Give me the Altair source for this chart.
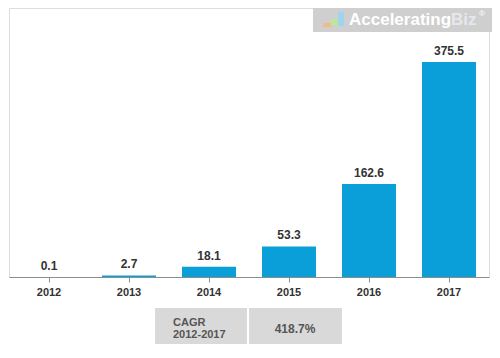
import altair as alt
import pandas as pd

years = ["2012", "2013", "2014", "2015", "2016", "2017"]
values = [0.1, 2.7, 18.1, 53.3, 162.6, 375.5]
cagr_label = "CAGR\n2012-2017"
cagr_value = "418.7%"
logo_main = "Accelerating"
logo_tail = "Biz"
logo_mark = "®"

df = pd.DataFrame({"year": years, "value": values})

FONT = "Liberation Sans"
BLUE = "#0a9fd8"

x_enc = alt.X("year:N", sort=years,
              scale=alt.Scale(paddingInner=0.325, paddingOuter=0.1625),
              axis=alt.Axis(title=None, labelAngle=0, labelFont=FONT, labelFontSize=11,
                            labelFontWeight="bold", labelColor="#333333",
                            domainColor="#8c8c8c", tickColor="#8c8c8c", tickSize=5,
                            labelPadding=4, grid=False))
y_enc = alt.Y("value:Q", scale=alt.Scale(domain=[0, 469.8], nice=False), axis=None)

bars = alt.Chart(df).mark_bar(color=BLUE).encode(x=x_enc, y=y_enc)
labels = alt.Chart(df).mark_text(dy=-4, font=FONT, fontSize=12, fontWeight="bold",
                                 color="#333333", baseline="bottom").encode(
    x=alt.X("year:N", sort=years), y="value:Q", text=alt.Text("value:Q", format=".1f"))

one = pd.DataFrame({"k": [0]})

box1 = alt.Chart(one).mark_rect(color="#d9d9d9").encode(
    x=alt.value(146), x2=alt.value(238), y=alt.value(300), y2=alt.value(340))
box2 = alt.Chart(one).mark_rect(color="#d9d9d9").encode(
    x=alt.value(240), x2=alt.value(333), y=alt.value(300), y2=alt.value(340))
t_cagr = alt.Chart(pd.DataFrame({"t": [cagr_label]})).mark_text(
    align="left", baseline="middle", lineBreak="\n", lineHeight=12, font=FONT,
    fontSize=11, fontWeight="bold", color="#555555").encode(
    x=alt.value(164), y=alt.value(315), text="t:N")
t_val = alt.Chart(pd.DataFrame({"t": [cagr_value]})).mark_text(
    align="center", baseline="middle", font=FONT, fontSize=12, fontWeight="bold",
    color="#555555").encode(x=alt.value(286), y=alt.value(321), text="t:N")

logo_box = alt.Chart(one).mark_rect(color="#cfcfcf").encode(
    x=alt.value(304), x2=alt.value(483), y=alt.value(0), y2=alt.value(24))
icon_a = alt.Chart(one).mark_rect(color="#f3b98a").encode(
    x=alt.value(314), x2=alt.value(324), y=alt.value(15), y2=alt.value(19))
icon_b = alt.Chart(one).mark_rect(color="#bfe3a0").encode(
    x=alt.value(322), x2=alt.value(330), y=alt.value(11), y2=alt.value(18))
icon_c = alt.Chart(one).mark_rect(color="#9fd3ee").encode(
    x=alt.value(329), x2=alt.value(335), y=alt.value(4), y2=alt.value(18))
t_logo1 = alt.Chart(pd.DataFrame({"t": [logo_main]})).mark_text(
    align="left", baseline="middle", font=FONT, fontSize=17, fontWeight="bold",
    color="#ffffff").encode(x=alt.value(340), y=alt.value(12), text="t:N")
t_logo2 = alt.Chart(pd.DataFrame({"t": [logo_tail]})).mark_text(
    align="left", baseline="middle", font=FONT, fontSize=17, fontWeight="bold",
    color="#e4e8ec").encode(x=alt.value(442), y=alt.value(12), text="t:N")
t_logo3 = alt.Chart(pd.DataFrame({"t": [logo_mark]})).mark_text(
    align="left", baseline="middle", font=FONT, fontSize=8,
    color="#ffffff").encode(x=alt.value(470), y=alt.value(6), text="t:N")

chart = alt.layer(bars, labels, box1, box2, t_cagr, t_val, logo_box, icon_a, icon_b,
                  icon_c, t_logo1, t_logo2, t_logo3).properties(
    width=480, height=269,
    autosize=alt.AutoSizeParams(type="none"),
    padding={"left": 1, "top": 0, "right": 3, "bottom": 67},
).configure_view(stroke=None).configure(background="#ffffff")

chart.save("out.html", embed_options={"renderer": "svg", "actions": False})
